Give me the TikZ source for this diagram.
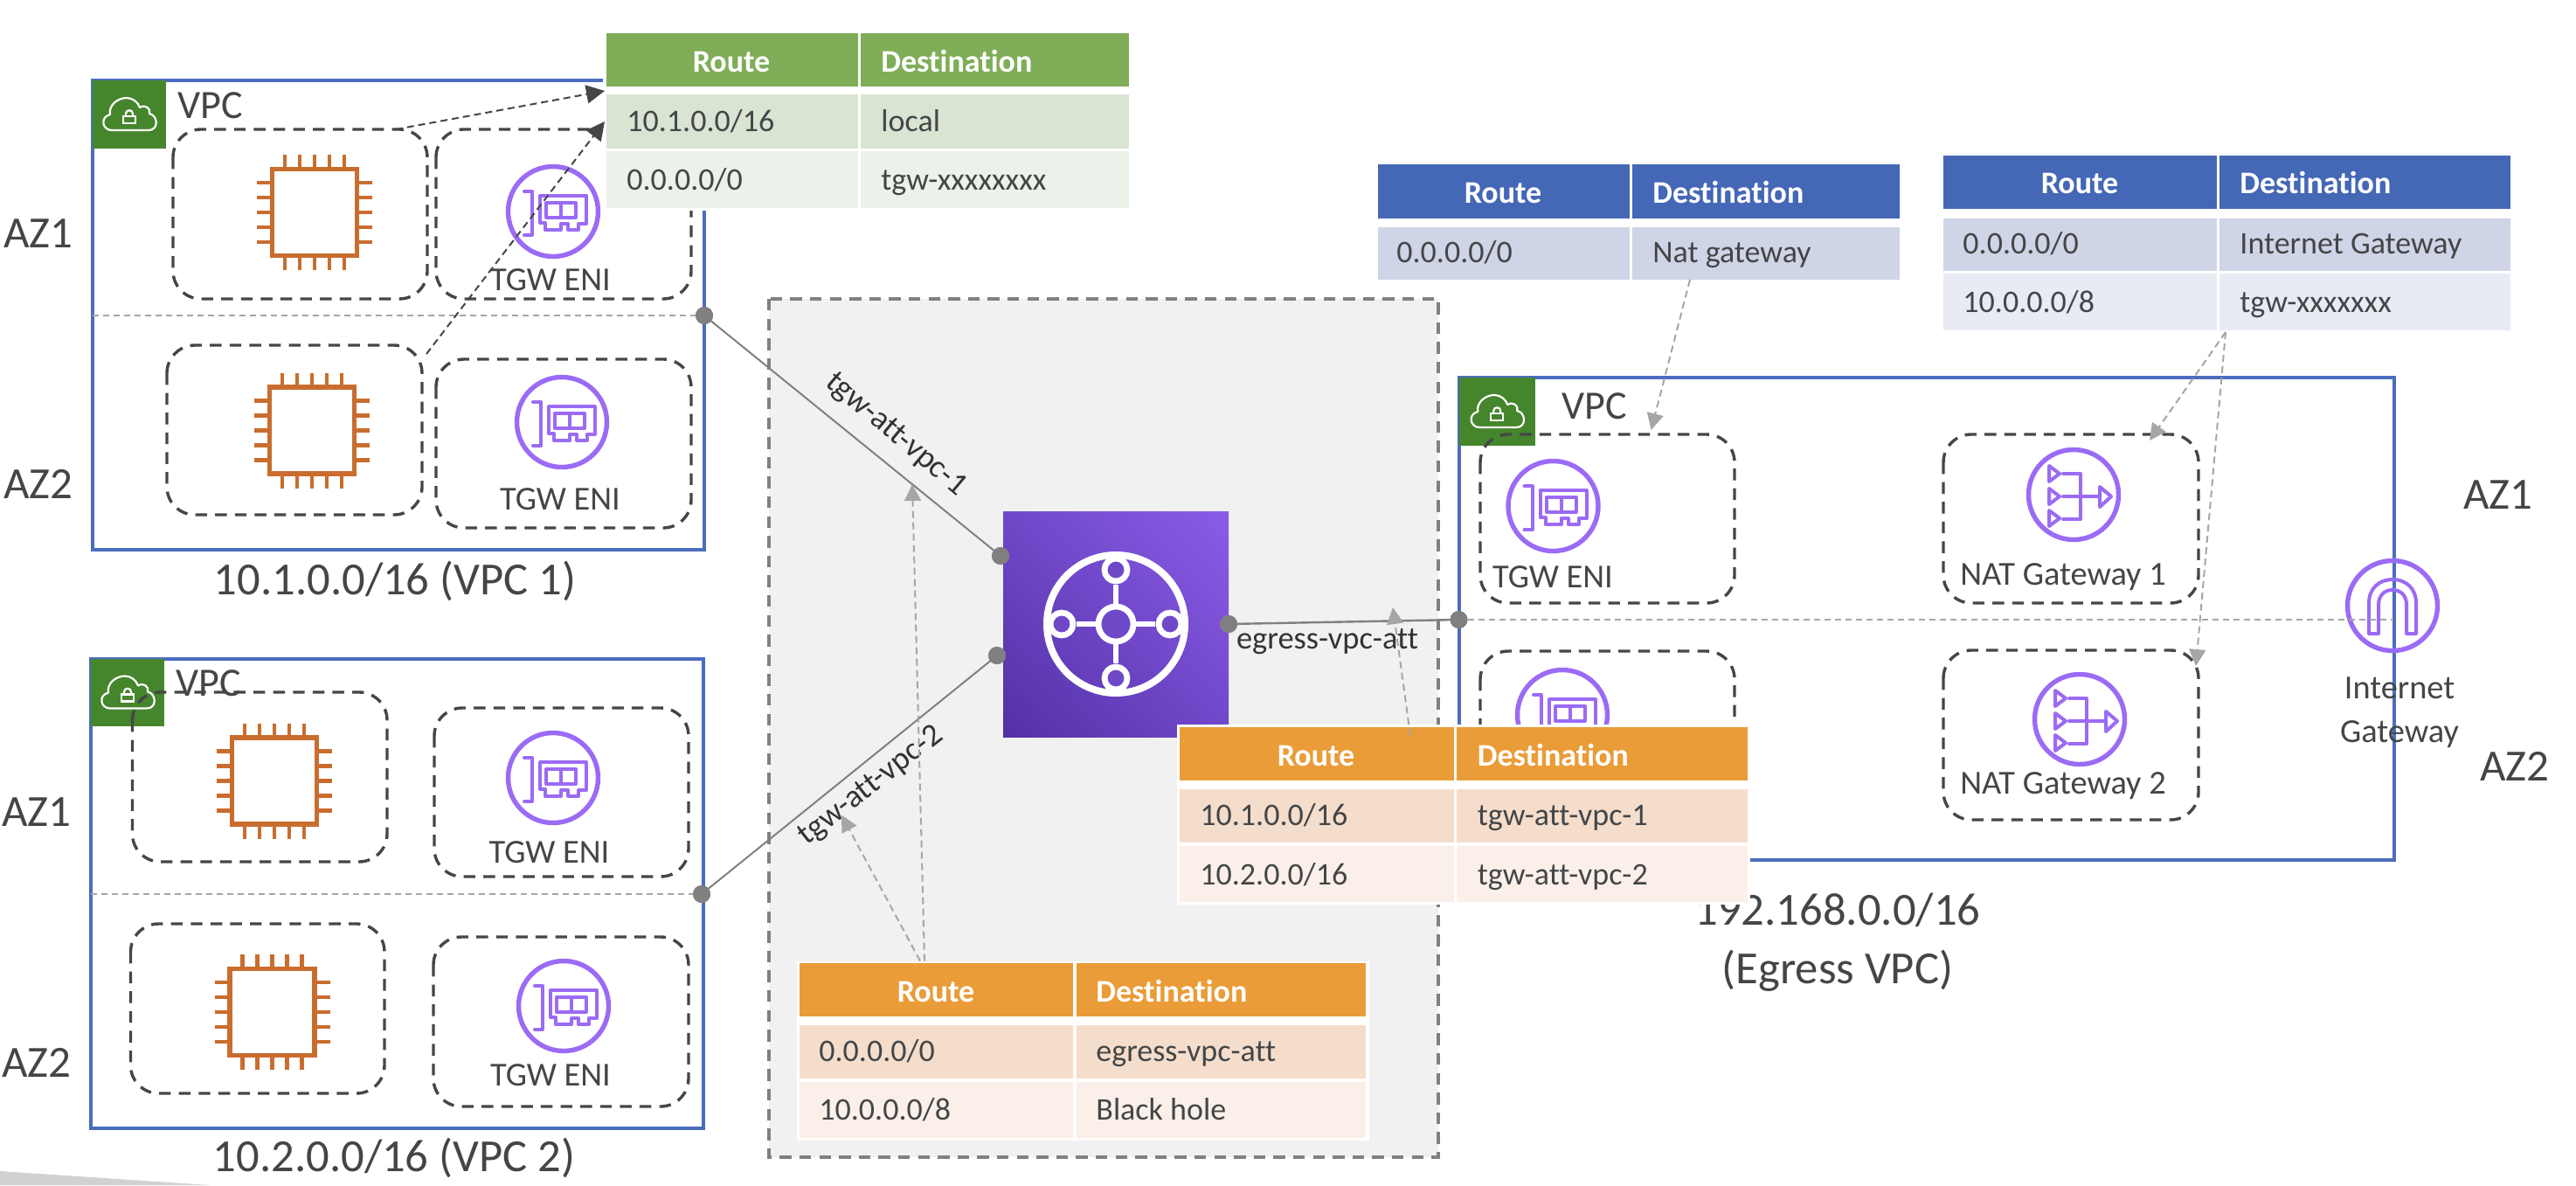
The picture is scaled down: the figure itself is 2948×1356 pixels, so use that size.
\documentclass[tikz,border=0pt]{standalone}
\usepackage{fontspec}
\setmainfont{Carlito}[Ligatures=NoCommon]
\usetikzlibrary{arrows.meta,shadings}
\definecolor{vpcblue}{HTML}{4A6DBE}
\definecolor{awsgreen}{HTML}{45852C}
\definecolor{boxdash}{HTML}{444746}
\definecolor{txt}{HTML}{434647}
\definecolor{chipc}{HTML}{C96D2F}
\definecolor{purp}{HTML}{9B6BF5}
\definecolor{dotg}{HTML}{808080}
\definecolor{lgray}{HTML}{A6A6A6}
\definecolor{grayfill}{HTML}{F1F1F1}
\definecolor{ghead}{HTML}{7FAD58}
\definecolor{gra}{HTML}{D9E4D3}
\definecolor{grb}{HTML}{ECF1E9}
\definecolor{bhead}{HTML}{4467B6}
\definecolor{bra}{HTML}{CFD4E6}
\definecolor{brb}{HTML}{E8EBF3}
\definecolor{ohead}{HTML}{E99C37}
\definecolor{ora}{HTML}{F5DDCC}
\definecolor{orb}{HTML}{FBF0E9}
\definecolor{pdark}{HTML}{5330A6}
\definecolor{pmid}{HTML}{6F48C8}
\definecolor{plight}{HTML}{8B5CE8}
\tikzset{
  x=0.5pt,y=-0.5pt,
  lab/.style={inner sep=0pt,text=txt},
  t18/.style={lab,font=\fontsize{18}{22}\selectfont,text height=11.6pt,text depth=0pt},
  h18/.style={lab,text=white,font=\bfseries\fontsize{18}{22}\selectfont,text height=11.6pt,text depth=0pt},
  t19/.style={lab,font=\fontsize{19.2}{23}\selectfont,text height=12.4pt,text depth=0pt},
  t23/.style={lab,font=\fontsize{23}{27}\selectfont,text height=14.8pt,text depth=0pt},
  t25/.style={lab,font=\fontsize{25.5}{30}\selectfont,text height=16.4pt,text depth=0pt},
  t26/.style={lab,font=\fontsize{26.3}{31}\selectfont,text height=17pt,text depth=0pt},
  tr/.style={lab,text=black!80,font=\fontsize{18.4}{22}\selectfont,text height=11.8pt,text depth=0pt},
  vpcbox/.style={draw=vpcblue,line width=2pt},
  azbox/.style={draw=boxdash,line width=1.7pt,rounded corners=16pt,dash pattern=on 6.7pt off 4.6pt},
  sepline/.style={draw=lgray,line width=1pt,dash pattern=on 3.5pt off 2.5pt},
  dot/.style={circle,fill=dotg,inner sep=0pt,minimum size=10pt},
  att/.style={draw=dotg,line width=1pt},
  refgray/.style={draw=lgray,line width=1pt,dash pattern=on 4pt off 2.5pt,-{Triangle[length=9.5pt,width=9.5pt,fill=lgray]}},
  refdark/.style={draw=boxdash,line width=1pt,dash pattern=on 4pt off 2.5pt,-{Triangle[length=10.5pt,width=10.5pt,fill=boxdash]}},
  icon/.style={draw=purp,line width=2pt,line join=round,line cap=round},
  iconring/.style={draw=purp,line width=2.7pt},
}
% chip icon
\newcommand\chipicon[2]{%
  \begin{scope}[shift={(#1,#2)}]
    \draw[chipc,line width=2.7pt] (-48.5,-49.5) rectangle (48.5,49.5);
    \foreach \p in {-34,-17,0,17,34}{
      \draw[chipc,line width=2.4pt] (\p,-52) -- (\p,-66);
      \draw[chipc,line width=2.4pt] (\p,52) -- (\p,66);
      \draw[chipc,line width=2.4pt] (-50,\p) -- (-66,\p);
      \draw[chipc,line width=2.4pt] (50,\p) -- (66,\p);
    }
  \end{scope}}
% network-interface icon
\newcommand\eniicon[2]{%
  \begin{scope}[shift={(#1,#2)}]
    \draw[iconring] (0,0) circle (51.5);
    \draw[icon] (-33,-23) -- (-24,-23) -- (-24,27) -- (-33,27);
    \draw[icon] (-15,-18) -- (38,-18) -- (38,14) -- (29,14) -- (29,21) -- (17,21) -- (17,14) -- (9,14) -- (9,21) -- (-9,21) -- (-9,13) -- (-15,13) -- cycle;
    \draw[icon] (-8,-10) rectangle (26,7);
    \draw[icon] (9,-10) -- (9,7);
  \end{scope}}
% NAT icon
\newcommand\naticon[2]{%
  \begin{scope}[shift={(#1,#2)}]
    \draw[iconring] (0,0) circle (51.5);
    \foreach \q in {-24,2,27}{
      \draw[icon] (-28,\q-9) -- (-16,\q) -- (-28,\q+9) -- cycle;
    }
    \draw[icon] (-12,-24) -- (8,-24) -- (8,28) -- (-12,28);
    \draw[icon] (-12,2) -- (30,2);
    \draw[icon] (30,-9) -- (43,2) -- (30,14) -- cycle;
  \end{scope}}
% cloud + lock in the green square
\newcommand\vpcbadge[4]{%
  \fill[awsgreen] (#1,#2) rectangle (#3,#4);
  \begin{scope}[shift={({(#1+#3)/2},{(#2+#4)/2})}]
    \draw[white,line width=1.1pt,line join=round]
      (-20,18) .. controls (-31,18) and (-34,3) .. (-22,0)
      .. controls (-24,-10) and (-14,-19) .. (-3,-19)
      .. controls (4,-19) and (10,-14) .. (12,-8)
      .. controls (18,-12) and (25,-7) .. (23,-1)
      .. controls (33,1) and (34,18) .. (22,18) -- cycle;
    \draw[white,line width=1.1pt] (-7,2) rectangle (7,10);
    \draw[white,line width=1.1pt] (-4,2) -- (-4,-1) .. controls (-4,-6) and (4,-6) .. (4,-1) -- (4,2);
  \end{scope}}
% table cell rectangle
\newcommand\cellr[5]{\fill[#5] (#1,#2) rectangle (#3,#4);}
\begin{document}
\begin{tikzpicture}
\useasboundingbox (0,0) rectangle (2948,1356);
\fill[white] (0,0) rectangle (2948,1356);
\fill[black!18] (0,1340) -- (240,1356) -- (0,1356) -- cycle;

% central grey region
\draw[draw=dotg,fill=grayfill,line width=2pt,dash pattern=on 6.7pt off 4.6pt] (879.5,342) rectangle (1646,1323.5);

%--------- VPC 1
\draw[vpcbox] (106,92) rectangle (806,629);
\vpcbadge{106}{92}{190}{170}
\node[t23,anchor=west] (vpca) at (203,121) {VPC};
\draw[azbox] (198,148) rectangle (489,342);
\draw[azbox] (499,148) rectangle (791,342);
\draw[azbox] (191,395) rectangle (483,589);
\draw[azbox] (499,411) rectangle (791,604);
\chipicon{360}{243}
\chipicon{357}{492.5}
\eniicon{633}{242}
\eniicon{643}{483}
\node[t19] (enia) at (630,320) {TGW ENI};
\node[t19] (enib) at (641,571.5) {TGW ENI};
\node[t25] (aza) at (44,267) {AZ1};
\node[t25] (azb) at (44,554) {AZ2};
\node[t26] (vpcaname) at (452,663) {10.1.0.0/16 (VPC 1)};

%--------- VPC 2
\draw[vpcbox] (104,754) rectangle (804.5,1291);
\vpcbadge{104}{754}{188}{831}
\node[t23,anchor=west] (vpcb) at (201,782) {VPC};
\draw[azbox] (151.5,792) rectangle (443,986);
\draw[azbox] (497,810) rectangle (788,1003);
\draw[azbox] (149.5,1057) rectangle (440,1251);
\draw[azbox] (496,1072) rectangle (788,1266);
\chipicon{314}{893.5}
\chipicon{311.5}{1158}
\eniicon{633}{890}
\eniicon{645}{1151}
\node[t19] (enic) at (628.5,975) {TGW ENI};
\node[t19] (enid) at (630,1230) {TGW ENI};
\node[t25] (azc) at (42,929) {AZ1};
\node[t25] (azd) at (42,1216) {AZ2};
\node[t26] (vpcbname) at (451,1323) {10.2.0.0/16 (VPC 2)};

%--------- Egress VPC
\draw[vpcbox] (1669.5,432) rectangle (2740,984);
\vpcbadge{1669.5}{432}{1757}{510}
\node[t23,anchor=west] (vpce) at (1787,465) {VPC};
\draw[azbox] (1694,497) rectangle (1985,690);
\draw[azbox] (1694,745) rectangle (1985,938);
\draw[azbox] (2224,497) rectangle (2516,690);
\draw[azbox] (2224,744) rectangle (2516,938);
\eniicon{1777.5}{579}
\eniicon{1788}{818}
\node[t19] (enie) at (1777,660) {TGW ENI};
\naticon{2373}{566}
\naticon{2380}{823}
\node[t19] (nata) at (2361,657) {NAT Gateway 1};
\node[t19] (natb) at (2361,896) {NAT Gateway 2};
% internet gateway
\draw[iconring] (2738,693) circle (51.5);
\draw[icon] (2711,725) -- (2711,690) .. controls (2711,673) and (2723,663) .. (2738,663)
  .. controls (2753,663) and (2765,673) .. (2765,690) -- (2765,725) -- (2754,725) -- (2754,692)
  .. controls (2754,681) and (2747,675) .. (2738,675) .. controls (2729,675) and (2722,681) .. (2722,692)
  -- (2722,725) -- cycle;
\node[t19] (igwa) at (2746,787) {Internet};
\node[t19] (igwb) at (2746,837) {Gateway};
\node[t25] (aze) at (2859,566) {AZ1};
\node[t25] (azf) at (2878,877) {AZ2};

%--------- Transit gateway square
\shade[lower left=pdark,upper right=plight,upper left=pmid,lower right=pmid] (1148,585) rectangle (1406,843);
\begin{scope}[shift={(1277,714)}]
  \draw[white,line width=4pt] (0,0) circle (79);
  \draw[white,line width=3.2pt] (0,-45) -- (0,45) (-45,0) -- (45,0);
  \fill[pmid] (0,0) circle (20);
  \draw[white,line width=3.4pt] (0,0) circle (20);
  \foreach \dx/\dy in {0/-62,0/62,-62/0,62/0}{
    \fill[pmid] (\dx,\dy) circle (13);
    \draw[white,line width=3.4pt] (\dx,\dy) circle (13);
  }
\end{scope}

%--------- attachment dots and links
\node[dot] (da) at (806,361) {};
\node[dot] (db) at (803,1023) {};
\node[dot] (tg1) at (1145,636) {};
\node[dot] (tg2) at (1141,750) {};
\node[dot] (tg3) at (1406,714) {};
\node[dot] (de) at (1669.5,709) {};
\coordinate (la) at (106,361);
\coordinate (lb) at (104,1023);
\coordinate (le) at (2739,709);
\draw[sepline] (la) -- (da.west);
\draw[sepline] (lb) -- (db.west);
\draw[sepline] (de.east) -- (le);
\draw[att] (da.center) -- (tg1.center);
\draw[att] (db.center) -- (tg2.center);
\draw[att,line width=1.2pt] (tg3.center) -- (de.center);
\node[dot] at (da) {};\node[dot] at (db) {};
\node[dot] at (tg1) {};\node[dot] at (tg2) {};\node[dot] at (tg3) {};\node[dot] at (de) {};
\node[tr,rotate=-40] (atta) at (1027,495) {tgw-att-vpc-1};
\node[tr,rotate=38] (attb) at (995,897) {tgw-att-vpc-2};
\node[lab,text=black!80,font=\fontsize{18.2}{22}\selectfont,text height=11.6pt,text depth=0pt] (atte) at (1519,731) {egress-vpc-att};

%--------- Green table
\fill[white] (690,34) rectangle (1296,241);
\cellr{694}{38}{982}{99}{ghead}
\cellr{985}{38}{1292}{99}{ghead}
\cellr{694}{108}{982}{170}{gra}
\cellr{985}{108}{1292}{170}{gra}
\cellr{694}{173}{982}{238}{grb}
\cellr{985}{173}{1292}{238}{grb}
\node[h18] (ga1) at (837,71) {Route};
\node[h18,anchor=west] (ga2) at (1008,71) {Destination};
\node[t18,anchor=west] (gb1) at (717,139) {10.1.0.0/16};
\node[t18,anchor=west] (gb2) at (1008,139) {local};
\node[t18,anchor=west] (gc1) at (717,206) {0.0.0.0/0};
\node[t18,anchor=west] (gc2) at (1008,206) {tgw-xxxxxxxx};

%--------- Blue table 1
\cellr{1577}{188}{1865}{249.5}{bhead}
\cellr{1868}{188}{2174}{249.5}{bhead}
\cellr{1577}{260}{1865}{320}{bra}
\cellr{1868}{260}{2174}{320}{bra}
\node[h18] (ba1) at (1720,221) {Route};
\node[h18,anchor=west] (ba2) at (1891,221) {Destination};
\node[t18,anchor=west] (bb1) at (1598,289) {0.0.0.0/0};
\node[t18,anchor=west] (bb2) at (1891,289) {Nat gateway};

%--------- Blue table 2
\cellr{2224}{178}{2537}{239}{bhead}
\cellr{2540}{178}{2873}{239}{bhead}
\cellr{2224}{249.5}{2537}{310}{bra}
\cellr{2540}{249.5}{2873}{310}{bra}
\cellr{2224}{313}{2537}{377.5}{brb}
\cellr{2540}{313}{2873}{377.5}{brb}
\node[h18] (ca1) at (2380,210) {Route};
\node[h18,anchor=west] (ca2) at (2563,210) {Destination};
\node[t18,anchor=west] (cb1) at (2246,278.5) {0.0.0.0/0};
\node[t18,anchor=west] (cb2) at (2563,278.5) {Internet Gateway};
\node[t18,anchor=west] (cc1) at (2246,346) {10.0.0.0/8};
\node[t18,anchor=west] (cc2) at (2563,346) {tgw-xxxxxxx};

%--------- Egress VPC name (its top is covered by the table)
\node[t26] (vpcename) at (2103,1041) {192.168.0.0/16};
\node[t26] (vpcename2) at (2103,1108) {(Egress VPC)};

%--------- Orange table 1
\fill[white] (1347,829) rectangle (2003,1035);
\cellr{1350}{832}{1663.5}{893}{ohead}
\cellr{1666.5}{832}{2000}{893}{ohead}
\cellr{1350}{903}{1663.5}{964}{ora}
\cellr{1666.5}{903}{2000}{964}{ora}
\cellr{1350}{968}{1663.5}{1032}{orb}
\cellr{1666.5}{968}{2000}{1032}{orb}
\node[h18] (oa1) at (1506,865) {Route};
\node[h18,anchor=west] (oa2) at (1690.5,865) {Destination};
\node[t18,anchor=west] (ob1) at (1373,933) {10.1.0.0/16};
\node[t18,anchor=west] (ob2) at (1690.5,933) {tgw-att-vpc-1};
\node[t18,anchor=west] (oc1) at (1373,1001) {10.2.0.0/16};
\node[t18,anchor=west] (oc2) at (1690.5,1001) {tgw-att-vpc-2};

%--------- Orange table 2
\fill[white] (912,1099.5) rectangle (1567,1305);
\cellr{915}{1102}{1228}{1163}{ohead}
\cellr{1232}{1102}{1563}{1163}{ohead}
\cellr{915}{1173}{1228}{1234}{ora}
\cellr{1232}{1173}{1563}{1234}{ora}
\cellr{915}{1238}{1228}{1302}{orb}
\cellr{1232}{1238}{1563}{1302}{orb}
\node[h18] (pa1) at (1071,1135) {Route};
\node[h18,anchor=west] (pa2) at (1254,1135) {Destination};
\node[t18,anchor=west] (pb1) at (937,1203) {0.0.0.0/0};
\node[t18,anchor=west] (pb2) at (1254,1203) {egress-vpc-att};
\node[t18,anchor=west] (pc1) at (937,1270) {10.0.0.0/8};
\node[t18,anchor=west] (pc2) at (1254,1270) {Black hole};

%--------- Route-table references
\coordinate (ra1) at (453,148);   \coordinate (ra2) at (692,104);
\coordinate (rb1) at (488,405);   \coordinate (rb2) at (692,139);
\coordinate (rc1) at (1934,320);  \coordinate (rc2) at (1889.5,492);
\coordinate (rd1) at (2547,380);  \coordinate (rd2) at (2460,504);
\coordinate (re2) at (2513,762);
\coordinate (rf1) at (1614,842);  \coordinate (rf2) at (1594,695);
\coordinate (rg1) at (1058,1099.5); \coordinate (rg2) at (1044,554);
\coordinate (rh1) at (1053,1099.5); \coordinate (rh2) at (963,932.5);
\draw[refdark] (ra1) -- (ra2);
\draw[refdark] (rb1) -- (rb2);
\draw[refgray] (rc1) -- (rc2);
\draw[refgray] (rd1) -- (rd2);
\draw[refgray] (rd1) -- (re2);
\draw[refgray] (rf1) -- (rf2);
\draw[refgray] (rg1) -- (rg2);
\draw[refgray] (rh1) -- (rh2);
\end{tikzpicture}
\end{document}
